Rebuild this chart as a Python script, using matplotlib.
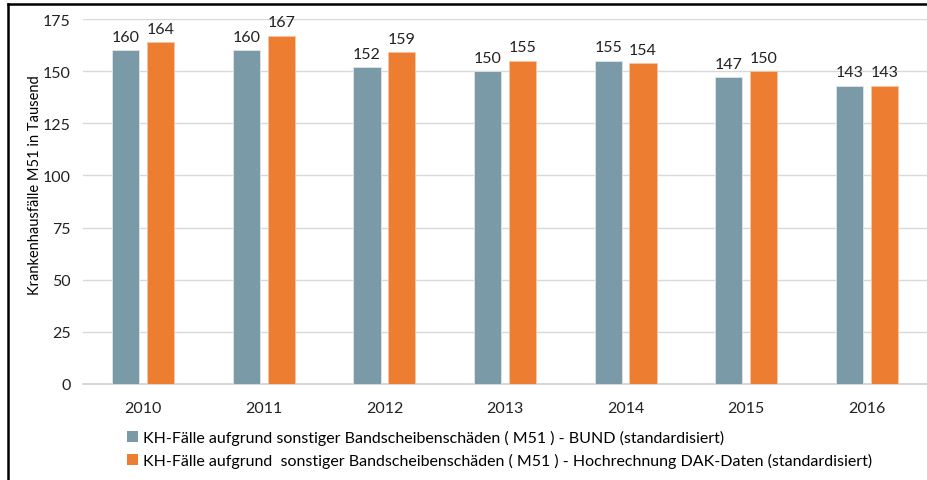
import matplotlib.pyplot as plt
from matplotlib.lines import Line2D
from matplotlib.patches import Patch
import numpy as np

years = ["2010", "2011", "2012", "2013", "2014", "2015", "2016"]
bund = [160, 160, 152, 150, 155, 147, 143]
dak = [164, 167, 159, 155, 154, 150, 143]

label_bund = "KH-Fälle aufgrund sonstiger Bandscheibenschäden ( M51 ) - BUND (standardisiert)"
label_dak = "KH-Fälle aufgrund  sonstiger Bandscheibenschäden ( M51 ) - Hochrechnung DAK-Daten (standardisiert)"

C_BUND = "#7b9aa8"
C_DAK = "#ed7d31"

plt.rcParams['font.family'] = ['Lato', 'DejaVu Sans']

fig = plt.figure(figsize=(9.27, 4.81), dpi=100)
ax = fig.add_axes([83 / 927, 96 / 481, 1 - 83 / 927, (385 - 20) / 481])

x = np.arange(len(years))
w = 0.225
off = 0.145
b1 = ax.bar(x - off, bund, w, color=C_BUND, edgecolor="#dfe6ea", linewidth=0.6, zorder=3)
b2 = ax.bar(x + off, dak, w, color=C_DAK, edgecolor="#f6c6a6", linewidth=0.6, zorder=3)
for bars, vals in ((b1, bund), (b2, dak)):
    for rect, v in zip(bars, vals):
        ax.text(rect.get_x() + rect.get_width() / 2, v + 3, str(v),
                ha="center", va="bottom", fontsize=11.5, color="#222222")

ax.set_xlim(-0.5, len(years) - 0.5)
ax.set_ylim(0, 175)
ax.set_yticks(range(0, 176, 25))
ax.set_xticks(x)
ax.set_xticklabels(years)
ax.tick_params(axis="both", length=0, labelsize=11.5, colors="#222222")
ax.tick_params(axis="x", pad=12)
ax.tick_params(axis="y", pad=9)
ax.grid(axis="y", color="#d9d9d9", linewidth=1, zorder=0)
for s in ("top", "right", "left"):
    ax.spines[s].set_visible(False)
ax.spines["bottom"].set_color("#d0d0d0")
ax.spines["bottom"].set_linewidth(1.2)

ax.set_ylabel("Krankenhausfälle M51 in Tausend", fontsize=10.5)
ax.yaxis.set_label_coords(-41 / 844, 0.548)

handles = [Patch(facecolor=C_BUND, label=label_bund),
           Patch(facecolor=C_DAK, label=label_dak)]
fig.legend(handles=handles, loc="upper left", bbox_to_anchor=(127 / 927, 1 - 431 / 481),
           frameon=False, fontsize=11.5, handlelength=0.7, handleheight=0.7,
           handletextpad=0.3, labelspacing=0.5, borderpad=0, borderaxespad=0)

# frame lines on the left and top
fig.add_artist(Line2D([8 / 927, 8 / 927], [0, 1 - 5 / 481], transform=fig.transFigure,
                      color="black", linewidth=1.8))
fig.add_artist(Line2D([8 / 927, 1], [1 - 5 / 481, 1 - 5 / 481], transform=fig.transFigure,
                      color="black", linewidth=1.8))

fig.savefig("out.png", dpi=100)
